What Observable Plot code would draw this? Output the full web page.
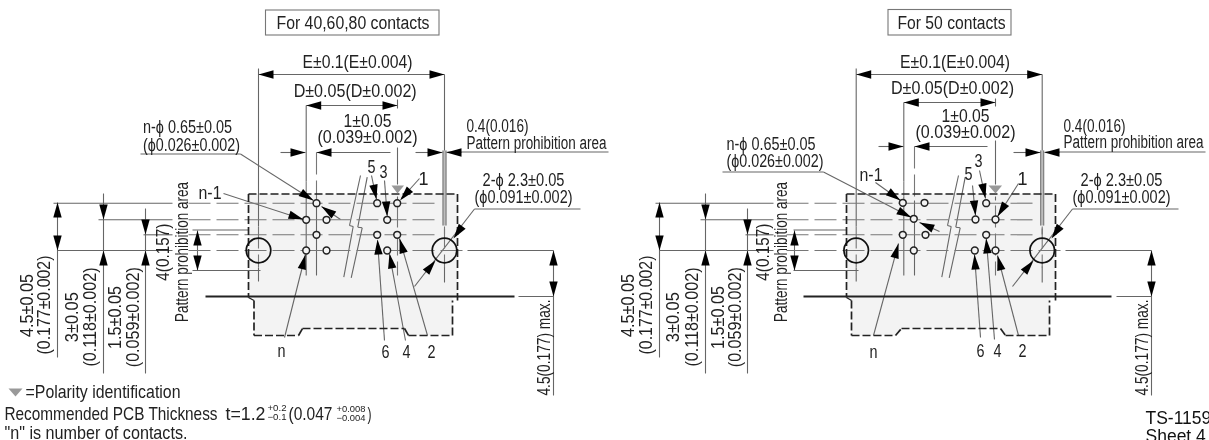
<!DOCTYPE html>
<html><head><meta charset="utf-8">
<script src="https://cdn.jsdelivr.net/npm/d3@7"></script>
<script src="https://cdn.jsdelivr.net/npm/@observablehq/plot@0.6"></script>
<style>
html,body{margin:0;padding:0;background:#fff;overflow:hidden}
svg{display:block;filter:blur(.4px)}
</style></head><body>
<script>
// Drawing values, in sheet units, one list per kind of feature: [x1,y1,x2,y2]
const thinLines = [
 // left drawing
 [258,68,258,226],[258,267,258,281],[444,74,444,150],[444,228,444,234],[444,266,444,282],
 [258,74,444,74],[305.7,105,305.7,181],[305.7,196,305.7,275],[305.7,105,397,105],[397,99,397,108],[397,147,397,184],[397,196,397,200],
 [280,152,305,152],[316,152,390,152],[415,152,442,152],[446,152,461,152],[447,151.5,608,151.5],
 [316,200,316,275],
 [53,202.7,172,202.7],[98,219.3,172,219.3],[143,234.3,172,234.3],[57,250,172,250],[192,229.5,248,229.5],[192,270,260,270],[467,250,553,250],[518,296,553,296],
 [57,202,57,357],[103,193,103,373],[145,208,145,373],[197,230,197,270],[553,250,553,395],
 [140,153.5,240,153.5],[240,153.5,313,200],[223,193,303,219],[340,219,321,206],
 [419,178,401,198],[371,175,376,199],[384,180,386.7,215],[384,340,377,240],[405,340,389,254],[427,335,399,238],[284,337,305,254],[580,208.5,474,208.5],[474,208.5,414,286],
 [360,175,349,225],[349,225,352.7,226],[352.7,226,343.3,276.7],[366.7,176.7,357.3,226.7],[357.3,226.7,361.7,227.3],[361.7,227.3,350.7,277.3],
 // right drawing
 [855.7,68,855.7,226],[855.7,267,855.7,281],[1041.7,74,1041.7,150],[1041.7,228,1041.7,234],[1041.7,266,1041.7,282],
 [855.7,74,1041.7,74],[903.3,102,903.3,181],[903.3,196,903.3,275],[903.3,102,995,102],[995,98,995,106],[995,140,995,184],[995,196,995,200],
 [878,146,903,146],[914,146,987,146],[1013,152,1040,152],[1044,152,1059,152],[1045,151.5,1205,151.5],
 [914,200,914,275],
 [655,202.7,773,202.7],[700,219.3,773,219.3],[745,234.3,773,234.3],[659,250,773,250],[793,229.5,846,229.5],[793,270,858,270],[1065,250,1151,250],[1116,296,1151,296],
 [659,202,659,357],[705,193,705,373],[747,208,747,373],[794,230,794,270],[1151,250,1151,395],
 [722,171.5,823,171.5],[823,171.5,911,217],[875,182,900,200],[939,231,919,222],
 [1018,183,997,216],[972,185,975,215],[979,170,985,198],[980,337,974,254],[994,339,985.7,238],[1018,335,997,255],[873,335,898,243],[1178,208.5,1072,208.5],[1072,208.5,1012,286],
 [958,175,947,225],[947,225,950.7,226],[950.7,226,941.3,276.7],[964.7,176.7,955.3,226.7],[955.3,226.7,959.7,227.3],[959.7,227.3,948.7,277.3]
];
const centerLines = [
 [188,202.7,438,202.7],[188,219.3,438,219.3],[188,234.3,438,234.3],[188,250,465,250],
 [305.7,181,305.7,196],[316,152,316,200],[397,205,397,275],[258,226,258,267],[444,226,444,267],
 [786,202.7,1036,202.7],[786,219.3,1036,219.3],[786,234.3,1036,234.3],[786,250,1063,250],
 [903.3,181,903.3,196],[914,146,914,200],[995,205,995,275],[855.7,226,855.7,267],[1041.7,226,1041.7,267]
];
const outlineDashed = [
 [248,193.5,457,193.5],[248,193.5,248,297],[457,193.5,457,300],
 [253.5,300,253.5,335],[253.5,335,298,335],[298,335,302,328],[302,328,404,328],[404,328,408,335],[408,335,452,335],[452,335,452,300],
 [846,193.5,1055,193.5],[846,193.5,846,297],[1055,193.5,1055,300],
 [851,300,851,335],[851,335,895,335],[895,335,901,328],[901,328,1000,328],[1000,328,1005,335],[1005,335,1049,335],[1049,335,1049,300]
];
const heavyLines = [[205,296,514,296],[803,296,1111,296]];
const outlineSmall = [[248,297,253.5,300],[846,297,851,300]];
const bandLines = [[442.5,150,442.5,225],[445.5,150,445.5,225],[1040.2,150,1040.2,225],[1043.2,150,1043.2,225]];

const padFillLeft = [[248,193.5],[457,193.5],[457,297],[452,297],[452,335],[408,335],[404,328],[302,328],[298,335],[253.5,335],[253.5,297],[248,297]];
const padFillRight = [[846,193.5],[1055,193.5],[1055,297],[1049,297],[1049,335],[1005,335],[1000,328],[901,328],[895,335],[851,335],[851,297],[846,297]];
const bandFill = [[[442,150],[446,150],[446,225],[442,225]],[[1039.7,150],[1043.7,150],[1043.7,225],[1039.7,225]]];

const holesLeft = [[316,202.7],[305.7,219.3],[326,219.3],[316,234.3],[305.7,250],[326,250],[376.7,202.7],[396.7,202.7],[386.7,219.3],[376.7,234.3],[396.7,234.3],[386.7,250]];
const holesRight = [[902.3,202.3],[924,202.3],[913.3,218.3],[902.3,234.3],[925,234.3],[913.3,250],[985.7,202.7],[975,219],[995,219],[985.7,234.3],[974.3,250],[995,250]];
const mountHoles = [[258,250],[444,250],[855.7,250],[1041.7,250]];

// Arrowheads: [tipX,tipY,towardX,towardY]
const arrows = [
 [258,74,444,74],[444,74,258,74],[305.7,105,397,105],[397,105,305.7,105],[305,152,280,152],[316,152,390,152],[442,152,415,152],[446,152,470,152],
 [57,202,57,250],[57,250,57,202],[103,219,103,193],[103,250,103,373],[145,234,145,208],[145,250,145,373],[197,230,197,270],[197,270,197,230],[553,250,553,296],[553,296,553,250],
 [313,200,240,153.5],[303,219,223,193],[321,206,340,219],[399.5,200,419,178],[376,199,371,175],[386.7,216,384,180],[377,239,384,340],[389,253,405,340],[399,238,427,335],[305,254,284,337],[453,238,474,208.5],[435,260,414,286],
 [855.7,74,1041.7,74],[1041.7,74,855.7,74],[903.3,102,995,102],[995,102,903.3,102],[903,146,878,146],[914,146,987,146],[1040,152,1013,152],[1044,152,1068,152],
 [659,202,659,250],[659,250,659,202],[705,219,705,193],[705,250,705,373],[747,234,747,208],[747,250,747,373],[794,230,794,270],[794,270,794,230],[1151,250,1151,296],[1151,296,1151,250],
 [911,217,823,171.5],[900,200,875,182],[919,222,939,231],[997,216,1018,183],[975,215,972,185],[985,198,979,170],[974,254,980,337],[985.7,238,994,339],[997,255,1018,335],[898,243,873,335],[1051,238,1072,208.5],[1033,260,1012,286]
];
const polarityMarks = [[391,185,403.5,185,397,193],[988,185,1001.5,185,995,193],[8,388,22,388,15,396]];

// Text: [x,y,label]
const labelsMiddle = [
 [352.5,23,"For 40,60,80 contacts"],[951,23,"For 50 contacts"],
 [357,62,"E±0.1(E±0.004)"],[954.5,62,"E±0.1(E±0.004)"],
 [354.7,91,"D±0.05(D±0.002)"],[952,88,"D±0.05(D±0.002)"],
 [367,121,"1±0.05"],[367,137,"(0.039±0.002)"],[965,116,"1±0.05"],[965,132,"(0.039±0.002)"],
 [423,179,"1"],[371,167,"5"],[383,172,"3"],[385,352,"6"],[406,352,"4"],[431,352,"2"],[281,351,"n"],
 [1022,179,"1"],[968,174,"5"],[978,161,"3"],[980,351,"6"],[997,351,"4"],[1022,351,"2"],[873,352,"n"],
 [523,180,"2-ϕ 2.3±0.05"],[523,197,"(ϕ0.091±0.002)"],[1121,180,"2-ϕ 2.3±0.05"],[1121,197,"(ϕ0.091±0.002)"]
];
const labelsStart = [
 [142.5,127,"n-ϕ 0.65±0.05"],[142.5,145,"(ϕ0.026±0.002)"],[726,144,"n-ϕ 0.65±0.05"],[726,161,"(ϕ0.026±0.002)"],
 [198,193,"n-1"],[859,175,"n-1"],
 [466,126,"0.4(0.016)"],[466,143,"Pattern prohibition area"],[1063,126,"0.4(0.016)"],[1063,142,"Pattern prohibition area"]
];
const labelsFooter = [
 [25,391,"=Polarity identification"],[4,413,"Recommended PCB Thickness"],[225,413,"t=1.2"],[288,413,"(0.047"],[367,413,")"],[4,432,"\"n\" is number of contacts."]
];
const labelsRotated = [
 [27,305,"4.5±0.05"],[44,304.5,"(0.177±0.002)"],[71.5,316.7,"3±0.05"],[90,316.5,"(0.118±0.002)"],[115,317,"1.5±0.05"],[133,316.7,"(0.059±0.002)"],[163,251.7,"4(0.157)"],[182,251.5,"Pattern prohibition area"],[544,347,"4.5(0.177) max."],
 [628,305,"4.5±0.05"],[646,304.5,"(0.177±0.002)"],[673,316.7,"3±0.05"],[691.5,316.5,"(0.118±0.002)"],[718,317,"1.5±0.05"],[735,316.7,"(0.059±0.002)"],[763,251.7,"4(0.157)"],[781,251.5,"Pattern prohibition area"],[1142,347,"4.5(0.177) max."]
];
const tolerances = [[267,408,"+0.2"],[267,417,"−0.1"],[336,409,"+0.008"],[336,418,"−0.004"]];
const sheetLabels = [[1145,418,"TS-1159"],[1145,436,"Sheet 4"]];
const titleBoxes = [[265.5,10,439,35],[888,9.5,1011,35]];
// How wide each label is set in the drawing's condensed lettering
const labelWidths = new Map([
 ["For 40,60,80 contacts",153],["For 50 contacts",108],["E±0.1(E±0.004)",110],["D±0.05(D±0.002)",123],
 ["1±0.05",48],["(0.039±0.002)",100],["n-ϕ 0.65±0.05",89],["(ϕ0.026±0.002)",97],["n-1",23],["0.4(0.016)",62],
 ["Pattern prohibition area",140],["2-ϕ 2.3±0.05",82],["(ϕ0.091±0.002)",98],["4.5±0.05",63],["(0.177±0.002)",99],
 ["3±0.05",50],["(0.118±0.002)",99],["1.5±0.05",63],["(0.059±0.002)",100],["4(0.157)",57],["4.5(0.177) max.",96],
 ["=Polarity identification",155],["Recommended PCB Thickness",213],["t=1.2",40],["(0.047",44],[")",4],
 ["\"n\" is number of contacts.",183],["+0.2",19],["−0.1",19],["+0.008",29],["−0.004",29],
 ["2",8],["3",8],["4",8],["5",8],["6",8],["n",8]
]);

const triangles = arrows.flatMap(([tx,ty,fx,fy],i)=>{
  const L=Math.hypot(fx-tx,fy-ty), ux=(fx-tx)/L, uy=(fy-ty)/L, len=15, hw=4.2;
  return [[tx,ty],[tx+ux*len-uy*hw,ty+uy*len+ux*hw],[tx+ux*len+uy*hw,ty+uy*len-ux*hw]].map(p=>({x:p[0],y:p[1],z:i}));
});
const polygon=(rows)=>rows.flatMap((r,i)=>r.map(p=>({x:p[0],y:p[1],z:i})));
const polarity = polarityMarks.flatMap((m,i)=>[[m[0],m[1]],[m[2],m[3]],[m[4],m[5]]].map(p=>({x:p[0],y:p[1],z:i})));
const seg=(data,o)=>Plot.link(data,{x1:d=>d[0],y1:d=>d[1],x2:d=>d[2],y2:d=>d[3],...o});
const FONT='"Liberation Sans",sans-serif';
const txt=(data,o)=>Plot.text(data,{x:d=>d[0],y:d=>d[1],text:d=>d[2],fontFamily:FONT,fontSize:18,fill:"#222",...o});

const chart = Plot.plot({
  width:1209,height:440,margin:0,
  x:{domain:[0,1209],axis:null},y:{domain:[440,0],axis:null},
  marks:[
    Plot.line(polygon([padFillLeft,padFillRight]),{x:"x",y:"y",z:"z",fill:"#f3f3f3",stroke:"none"}),
    Plot.line(polygon(bandFill),{x:"x",y:"y",z:"z",fill:"#bdbdbd",stroke:"none"}),
    seg(bandLines,{stroke:"#777",strokeWidth:1}),
    seg(thinLines,{stroke:"#666",strokeWidth:1.1}),
    seg(centerLines,{stroke:"#777",strokeWidth:1.1,strokeDasharray:"22,6"}),
    seg(outlineDashed,{stroke:"#222",strokeWidth:1.7,strokeDasharray:"8,3"}),
    seg(outlineSmall,{stroke:"#222",strokeWidth:1.4}),
    seg(heavyLines,{stroke:"#222",strokeWidth:1.8}),
    Plot.dot(holesLeft.concat(holesRight),{x:d=>d[0],y:d=>d[1],r:3.4,stroke:"#222",strokeWidth:1.5,fill:"#f3f3f3"}),
    Plot.dot(mountHoles,{x:d=>d[0],y:d=>d[1],r:12.3,stroke:"#111",strokeWidth:1.7,fill:"none"}),
    Plot.line(triangles,{x:"x",y:"y",z:"z",fill:"#000",stroke:"none"}),
    Plot.line(polarity,{x:"x",y:"y",z:"z",fill:"#999",stroke:"none"}),
    Plot.rect(titleBoxes,{x1:d=>d[0],y1:d=>d[1],x2:d=>d[2],y2:d=>d[3],fill:"none",stroke:"#777",strokeWidth:1.1}),
    txt(labelsMiddle,{textAnchor:"middle"}),
    txt(labelsStart,{textAnchor:"start"}),
    txt(labelsFooter,{textAnchor:"start",fontSize:19}),
    txt(labelsRotated,{rotate:-90,textAnchor:"middle"}),
    txt(tolerances,{textAnchor:"start",fontSize:9}),
    Plot.text(sheetLabels,{x:d=>d[0],y:d=>d[1],text:d=>d[2],fontFamily:FONT,fontSize:17.5,fill:"#111",textAnchor:"start"})
  ]
});
document.body.appendChild(chart);
d3.select(chart).selectAll("text").each(function(){
  const w=labelWidths.get(this.textContent);
  if(w){this.setAttribute("textLength",w);this.setAttribute("lengthAdjust","spacingAndGlyphs");}
});
</script></body></html>
